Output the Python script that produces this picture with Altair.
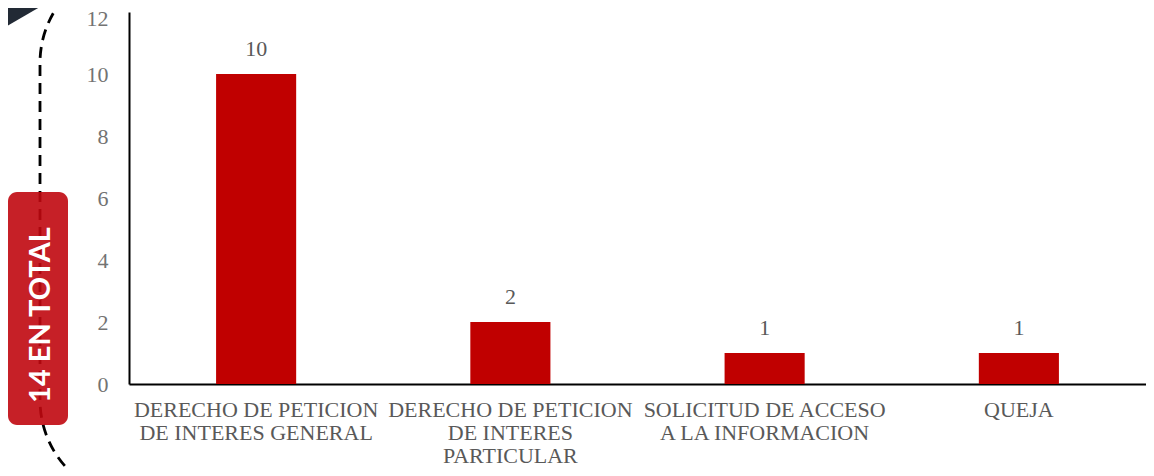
import altair as alt
import pandas as pd

categories = [
    "DERECHO DE PETICION|DE INTERES GENERAL",
    "DERECHO DE PETICION|DE INTERES|PARTICULAR",
    "SOLICITUD DE ACCESO|A LA INFORMACION",
    "QUEJA",
]
values = [10, 2, 1, 1]
y_ticks = [0, 2, 4, 6, 8, 10, 12]
badge_text = "14 EN TOTAL"

df = pd.DataFrame({"cat": categories, "val": values})
one = pd.DataFrame({"k": [0]})

SERIF = "Liberation Serif"
BAR = "#C00000"

x_enc = alt.X(
    "cat:N",
    sort=categories,
    scale=alt.Scale(paddingInner=0.685, paddingOuter=0.3425),
    axis=alt.Axis(
        title=None,
        labelAngle=0,
        labelExpr="split(datum.label, '|')",
        labelFont=SERIF,
        labelFontSize=22,
        labelColor="#595959",
        labelLineHeight=23,
        labelPadding=15,
        labelLimit=400,
        labelOverlap=False,
        ticks=False,
        domainColor="#000000",
        domainWidth=2,
    ),
)
y_enc = alt.Y(
    "val:Q",
    scale=alt.Scale(domain=[0, 12]),
    axis=alt.Axis(
        title=None,
        values=y_ticks,
        grid=False,
        ticks=False,
        labelFont=SERIF,
        labelFontSize=22,
        labelColor="#737373",
        labelPadding=21,
        labelOffset=alt.condition("datum.value == 12", alt.value(6), alt.value(0)),
        domainColor="#000000",
        domainWidth=2,
    ),
)

bars = alt.Chart(df).mark_bar(color=BAR).encode(x=x_enc, y=y_enc)
labels = alt.Chart(df).mark_text(
    font=SERIF, fontSize=22, color="#595959", baseline="alphabetic", dy=-18
).encode(x=alt.X("cat:N", sort=categories), y="val:Q", text="val:Q")

base = alt.Chart(one)

triangle = base.mark_point(
    shape="M -1 -0.577 L 1 -0.577 L -1 0.577 Z",
    filled=True,
    color="#222A35",
    opacity=1,
    size=2704,
    strokeWidth=0,
).encode(x=alt.value(-103), y=alt.value(3))

dashed = base.mark_rect(
    fill=None,
    fillOpacity=0,
    stroke="#000000",
    strokeWidth=2.8,
    strokeDash=[11, 7],
    cornerRadius=100,
).encode(
    x=alt.value(-89), x2=alt.value(1300), y=alt.value(-49), y2=alt.value(488)
)

badge = base.mark_rect(color="#C0080F", opacity=0.9, cornerRadius=9).encode(
    x=alt.value(-121), x2=alt.value(-61), y=alt.value(180), y2=alt.value(413)
)

badge_txt = base.mark_text(
    text=badge_text,
    font="Lato",
    fontWeight="bold",
    fontSize=29,
    color="#FFFFFF",
    angle=270,
    align="center",
    baseline="middle",
).encode(x=alt.value(-88), y=alt.value(303))

chart = (
    alt.layer(triangle, dashed, badge, badge_txt, bars, labels)
    .properties(
        width=1017,
        height=372,
        autosize=alt.AutoSizeParams(type="none"),
        padding={"left": 121, "top": 4, "right": 0, "bottom": 84},
    )
    .configure_view(stroke=None)
)

chart.save("out.html", embed_options={"renderer": "svg", "actions": False})
